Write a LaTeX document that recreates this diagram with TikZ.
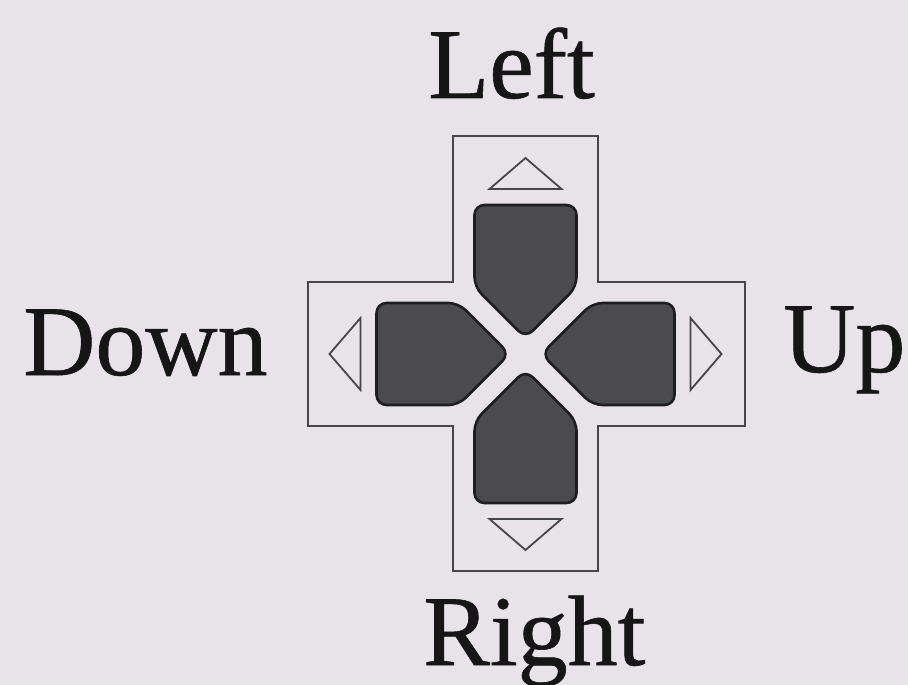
\documentclass[tikz,border=0pt]{standalone}
\usepackage{fontspec}
\setmainfont{Liberation Serif}
\newfontfamily\labfont[FakeBold=0.6]{Liberation Serif}
\definecolor{bgc}{HTML}{E7E3E9}
\definecolor{btnfill}{HTML}{4B4B4E}
\definecolor{btnline}{HTML}{1E1E20}
\definecolor{linec}{HTML}{46464A}
\definecolor{txtc}{HTML}{161616}
\tikzset{
  crossline/.style={draw=linec, line width=1.8pt, line join=miter},
  button/.style={fill=btnfill, draw=btnline, line width=2.6pt, rounded corners=10pt},
  tri/.style={draw=linec, line width=1.8pt, line join=miter},
  lab/.style={inner sep=0pt, text=txtc, font=\labfont\fontsize{100}{120}\selectfont}
}
\begin{document}
\begin{tikzpicture}[x=1pt,y=-1pt]
\fill[bgc] (0,0) rectangle (908,685);
\useasboundingbox (0,0) rectangle (908,685);
% cross outline
\draw[crossline] (453,136) -- (598,136) -- (598,282) -- (745,282) -- (745,426)
  -- (598,426) -- (598,571) -- (453,571) -- (453,426) -- (308,426)
  -- (308,282) -- (453,282) -- cycle;
\coordinate (C) at (525.5,354);
\foreach \a in {0,90,180,270}{
  \begin{scope}[shift={(C)}, rotate=\a]
    \draw[button] (0,-16) -- (-51,-67) -- (-51,-149) -- (51,-149) -- (51,-67) -- cycle;
    \draw[tri] (0,-196) -- (-36,-165) -- (36,-165) -- cycle;
  \end{scope}
}
\node[lab, anchor=base west] (left) at (428,98) {Left};
\node[lab, anchor=base west] (down) at (23,375) {Down};
\node[lab, anchor=base west] (up) at (783,372) {Up};
\node[lab, anchor=base west] (right) at (423,665) {Right};
\end{tikzpicture}
\end{document}
